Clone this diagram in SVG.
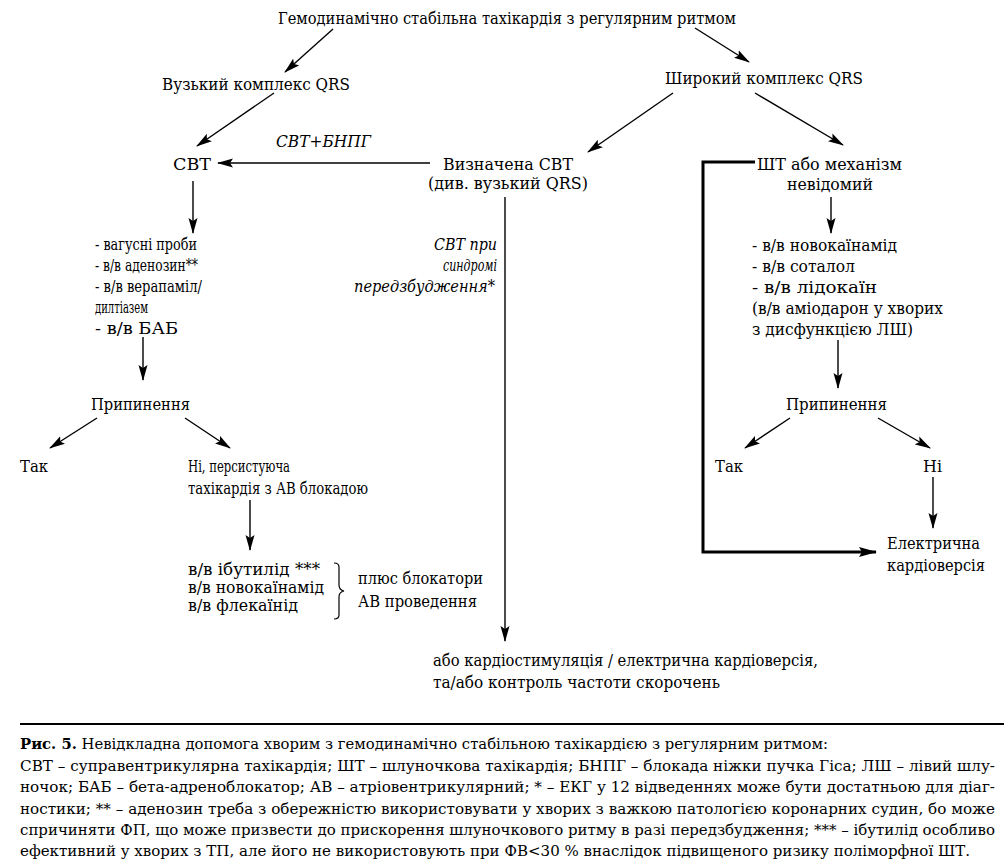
<svg xmlns="http://www.w3.org/2000/svg" width="1006" height="861" viewBox="0 0 1006 861">
<defs>
<style>
text{font-family:"DejaVu Serif",serif;font-size:16px;fill:#000}
.it{font-style:italic}
.cap{font-size:15px}
.b{font-weight:bold}
.ln{stroke:#000;stroke-width:1.4;fill:none;marker-end:url(#ah)}
.tk{stroke:#000;stroke-width:3;fill:none}
</style>
<marker id="ah" viewBox="0 0 16 10" refX="15" refY="5" markerWidth="16" markerHeight="10" markerUnits="userSpaceOnUse" orient="auto">
<path d="M0,0.5 L16,5 L0,9.5 L3,5 z" fill="#000"/>
</marker>
<marker id="ahb" viewBox="0 0 18 11" refX="17" refY="5.5" markerWidth="18" markerHeight="11" markerUnits="userSpaceOnUse" orient="auto">
<path d="M0,0.5 L18,5.5 L0,10.5 L3,5.5 z" fill="#000"/>
</marker>
</defs>
<rect width="1006" height="861" fill="#fff"/>

<g id="connectors">
<line class="ln" x1="333" y1="29" x2="285" y2="72"/>
<line class="ln" x1="695" y1="28" x2="749" y2="62"/>
<line class="ln" x1="274" y1="93" x2="197" y2="146"/>
<line class="ln" x1="673" y1="93" x2="588" y2="152"/>
<line class="ln" x1="755" y1="93" x2="843" y2="145"/>
<line class="ln" x1="430" y1="163" x2="218" y2="163"/>
<line class="ln" x1="193" y1="181" x2="193" y2="233"/>
<line class="ln" x1="143" y1="337" x2="143" y2="380"/>
<line class="ln" x1="97" y1="418" x2="50" y2="448"/>
<line class="ln" x1="185" y1="418" x2="230" y2="448"/>
<line class="ln" x1="250" y1="500" x2="250" y2="550"/>
<line class="ln" x1="505" y1="197" x2="505" y2="641"/>
<line class="ln" x1="831" y1="197" x2="831" y2="233"/>
<line class="ln" x1="838" y1="340" x2="838" y2="388"/>
<line class="ln" x1="790" y1="418" x2="745" y2="448"/>
<line class="ln" x1="878" y1="418" x2="930" y2="448"/>
<line class="ln" x1="933" y1="477" x2="933" y2="528"/>
<polyline class="tk" points="755,162 703,162 703,552 876,552" marker-end="url(#ahb)"/>
<path d="M334,563 q5,0 5,4 v18 q0,5 5,6 q-5,1 -5,6 v18 q0,4 -5,4" stroke="#000" stroke-width="1.2" fill="none"/>
</g>

<g id="n-title"><text x="278" y="24" textLength="458" lengthAdjust="spacingAndGlyphs">Гемодинамічно стабільна тахікардія з регулярним ритмом</text></g>
<g id="n-narrow"><text x="162" y="90" textLength="188" lengthAdjust="spacingAndGlyphs">Вузький комплекс QRS</text></g>
<g id="n-wide"><text x="665" y="84" textLength="198" lengthAdjust="spacingAndGlyphs">Широкий комплекс QRS</text></g>
<g id="n-svt"><text x="173" y="170" textLength="38" lengthAdjust="spacingAndGlyphs">СВТ</text></g>
<g id="l-svt-bnpg"><text class="it" x="276" y="147" textLength="95" lengthAdjust="spacingAndGlyphs">СВТ+БНПГ</text></g>
<g id="n-defined">
<text x="443" y="170" textLength="130" lengthAdjust="spacingAndGlyphs">Визначена СВТ</text>
<text x="428" y="189" textLength="160" lengthAdjust="spacingAndGlyphs">(див. вузький QRS)</text>
</g>
<g id="n-vt">
<text x="757" y="170" textLength="145" lengthAdjust="spacingAndGlyphs">ШТ або механізм</text>
<text x="787" y="190" textLength="86" lengthAdjust="spacingAndGlyphs">невідомий</text>
</g>
<g id="n-left-list">
<text x="95" y="250" textLength="102" lengthAdjust="spacingAndGlyphs">- вагусні проби</text>
<text x="95" y="271" textLength="103" lengthAdjust="spacingAndGlyphs">- в/в аденозин**</text>
<text x="95" y="292" textLength="107" lengthAdjust="spacingAndGlyphs">- в/в верапаміл/</text>
<text x="95" y="313" textLength="53" lengthAdjust="spacingAndGlyphs">дилтіазем</text>
<text x="95" y="334" textLength="83" lengthAdjust="spacingAndGlyphs">- в/в БАБ</text>
</g>
<g id="l-preexc">
<text class="it" x="434" y="250" textLength="63" lengthAdjust="spacingAndGlyphs">СВТ при</text>
<text class="it" x="443" y="271" textLength="54" lengthAdjust="spacingAndGlyphs">синдромі</text>
<text class="it" x="354" y="292" textLength="141" lengthAdjust="spacingAndGlyphs">передзбудження*</text>
</g>
<g id="n-term-left"><text x="91" y="410" textLength="99" lengthAdjust="spacingAndGlyphs">Припинення</text></g>
<g id="n-yes-left"><text x="20" y="472" textLength="28" lengthAdjust="spacingAndGlyphs">Так</text></g>
<g id="n-no-left">
<text x="188" y="472" textLength="102" lengthAdjust="spacingAndGlyphs">Ні, персистуюча</text>
<text x="188" y="494" textLength="180" lengthAdjust="spacingAndGlyphs">тахікардія з АВ блокадою</text>
</g>
<g id="n-drugs-left">
<text x="188" y="575" textLength="132" lengthAdjust="spacingAndGlyphs">в/в ібутилід ***</text>
<text x="188" y="593" textLength="136" lengthAdjust="spacingAndGlyphs">в/в новокаїнамід</text>
<text x="188" y="611" textLength="110" lengthAdjust="spacingAndGlyphs">в/в флекаїнід</text>
</g>
<g id="n-av-block">
<text x="358" y="584" textLength="125" lengthAdjust="spacingAndGlyphs">плюс блокатори</text>
<text x="358" y="607" textLength="119" lengthAdjust="spacingAndGlyphs">АВ проведення</text>
</g>
<g id="n-pacing">
<text x="433" y="666" textLength="385" lengthAdjust="spacingAndGlyphs">або кардіостимуляція / електрична кардіоверсія,</text>
<text x="433" y="688" textLength="287" lengthAdjust="spacingAndGlyphs">та/або контроль частоти скорочень</text>
</g>
<g id="n-right-list">
<text x="752" y="251" textLength="145" lengthAdjust="spacingAndGlyphs">- в/в новокаїнамід</text>
<text x="752" y="272" textLength="103" lengthAdjust="spacingAndGlyphs">- в/в соталол</text>
<text x="752" y="293" textLength="125" lengthAdjust="spacingAndGlyphs">- в/в лідокаїн</text>
<text x="752" y="314" textLength="191" lengthAdjust="spacingAndGlyphs">(в/в аміодарон у хворих</text>
<text x="752" y="335" textLength="161" lengthAdjust="spacingAndGlyphs">з дисфункцією ЛШ)</text>
</g>
<g id="n-term-right"><text x="786" y="410" textLength="101" lengthAdjust="spacingAndGlyphs">Припинення</text></g>
<g id="n-yes-right"><text x="715" y="472" textLength="28" lengthAdjust="spacingAndGlyphs">Так</text></g>
<g id="n-no-right"><text x="923" y="472" textLength="19" lengthAdjust="spacingAndGlyphs">Ні</text></g>
<g id="n-cardioversion">
<text x="887" y="549" textLength="93" lengthAdjust="spacingAndGlyphs">Електрична</text>
<text x="887" y="571" textLength="98" lengthAdjust="spacingAndGlyphs">кардіоверсія</text>
</g>

<g id="caption">
<line x1="20" y1="724" x2="1004" y2="724" stroke="#000" stroke-width="2"/>
<text class="cap" x="20" y="749" textLength="808" lengthAdjust="spacingAndGlyphs"><tspan class="b">Рис. 5.</tspan> Невідкладна допомога хворим з гемодинамічно стабільною тахікардією з регулярним ритмом:</text>
<text class="cap" x="20" y="771" textLength="975" lengthAdjust="spacingAndGlyphs">СВТ – суправентрикулярна тахікардія; ШТ – шлуночкова тахікардія; БНПГ – блокада ніжки пучка Гіса; ЛШ – лівий шлу-</text>
<text class="cap" x="20" y="792" textLength="975" lengthAdjust="spacingAndGlyphs">ночок; БАБ – бета-адреноблокатор; АВ – атріовентрикулярний; * – ЕКГ у 12 відведеннях може бути достатньою для діаг-</text>
<text class="cap" x="20" y="814" textLength="975" lengthAdjust="spacingAndGlyphs">ностики; ** – аденозин треба з обережністю використовувати у хворих з важкою патологією коронарних судин, бо може</text>
<text class="cap" x="20" y="835" textLength="975" lengthAdjust="spacingAndGlyphs">спричиняти ФП, що може призвести до прискорення шлуночкового ритму в разі передзбудження; *** – ібутилід особливо</text>
<text class="cap" x="20" y="856" textLength="950" lengthAdjust="spacingAndGlyphs">ефективний у хворих з ТП, але його не використовують при ФВ&lt;30 % внаслідок підвищеного ризику поліморфної ШТ.</text>
</g>
</svg>
